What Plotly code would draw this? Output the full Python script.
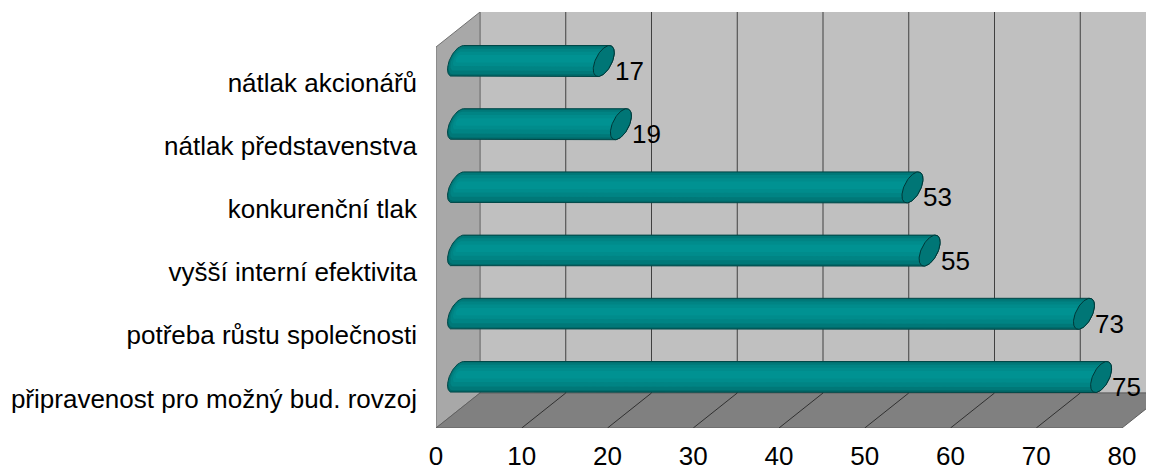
import numpy as np
import plotly.graph_objects as go

# ---------------- data ----------------
categories = [
    "připravenost pro možný bud. rovzoj",
    "potřeba růstu společnosti",
    "vyšší interní efektivita",
    "konkurenční tlak",
    "nátlak představenstva",
    "nátlak akcionářů",
]
values = [75, 73, 55, 53, 19, 17]
x_ticks = [0, 10, 20, 30, 40, 50, 60, 70, 80]

# ---------------- geometry / style ----------------
OFF = 8                            # page body margin compensation
W, H = 1154 - OFF, 473 - OFF
ML, MR, MT, MB = 436 - OFF, 0, 12 - OFF, 45
X_MAX_AXIS = 80
SX = (1122 - 436) / 80.0          # px per value unit (front plane)
SY = 63.2                          # px per category step
PLOT_W = W - ML - MR
PLOT_H = H - MT - MB
XR = [0, PLOT_W / SX]
Y0 = -0.53
YR = [Y0, Y0 + PLOT_H / SY]

DX = 44 / SX                       # depth offset (units)
DY = 35 / SY
LABEL_SHIFT = 4 / SY               # category labels sit slightly lower

FONT = "Liberation Sans, Arial, sans-serif"
FS = 26

# cylinder cross-section (px, y up)
RV, VX, VY = 13.05, 10.5, 8.35
T_STAR = np.arctan2(VY, RV)


def ell(cx, cy, t, k=1.0, dy_px=0.0):
    x = cx + k * VX * np.sin(t) / SX
    y = cy + (k * (RV * np.cos(t) + VY * np.sin(t)) + dy_px) / SY
    return x, y


def silhouette(x0, x1, cy, k=1.0, dy_px=0.0):
    tr = np.linspace(T_STAR, T_STAR + np.pi, 40)
    tl = np.linspace(T_STAR + np.pi, T_STAR + 2 * np.pi, 40)
    xr, yr = ell(x1, cy, tr, k, dy_px)
    xl, yl = ell(x0, cy, tl, k, dy_px)
    xs = np.concatenate([xr, xl, xr[:1]])
    ys = np.concatenate([yr, yl, yr[:1]])
    return xs, ys


fig = go.Figure()

shapes = []
ymin, ymax = YR
# back wall
shapes.append(dict(type="rect", xref="x", yref="y", x0=DX, x1=X_MAX_AXIS + DX,
                   y0=ymin + DY, y1=ymax + 0.01, fillcolor="#c0c0c0",
                   line=dict(color="#808080", width=1), layer="below"))
# left wall
shapes.append(dict(type="path", xref="x", yref="y",
                   path=f"M0,{ymin} L0,{ymax-DY} L{DX},{ymax} L{DX},{ymin+DY} Z",
                   fillcolor="#a8a8a8", line=dict(color="#707070", width=1), layer="below"))
# floor
shapes.append(dict(type="path", xref="x", yref="y",
                   path=f"M0,{ymin} L{DX},{ymin+DY} L{X_MAX_AXIS+DX},{ymin+DY} L{X_MAX_AXIS},{ymin} Z",
                   fillcolor="#808080", line=dict(color="#606060", width=1), layer="below"))
# gridlines
for v in x_ticks[1:-1]:
    shapes.append(dict(type="line", xref="x", yref="y", x0=v + DX, x1=v + DX,
                       y0=ymin + DY, y1=ymax, line=dict(color="#404040", width=1), layer="below"))
    shapes.append(dict(type="line", xref="x", yref="y", x0=v, x1=v + DX,
                       y0=ymin, y1=ymin + DY, line=dict(color="#303030", width=1), layer="below"))

layers = [(1.0, 0.0, "rgb(0,104,104)"), (0.9, 0.6, "rgb(0,120,120)"),
          (0.72, 1.2, "rgb(0,132,132)"), (0.48, 1.8, "rgb(0,140,140)"),
          (0.24, 2.2, "rgb(0,146,146)")]

annotations = []
for i, (cat, val) in enumerate(zip(categories, values)):
    cy = i + DY / 2
    x0 = DX / 2
    x1 = val + DX / 2
    for k, dyp, col in layers:
        xs, ys = silhouette(x0, x1, cy, k, dyp)
        fig.add_trace(go.Scatter(x=xs, y=ys, mode="lines", fill="toself", fillcolor=col,
                                 line=dict(color="rgb(0,72,72)" if k == 1.0 else col,
                                           width=1 if k == 1.0 else 0),
                                 hoverinfo="skip", showlegend=False))
    t = np.linspace(0, 2 * np.pi, 80)
    cx_, cy_ = ell(x1, cy, t)
    fig.add_trace(go.Scatter(x=cx_, y=cy_, mode="lines", fill="toself",
                             fillcolor="rgb(0,118,118)",
                             line=dict(color="rgb(0,55,55)", width=1),
                             hoverinfo="skip", showlegend=False))
    annotations.append(dict(x=x1 + 9 / SX, y=cy - 10 / SY, xref="x", yref="y",
                            text=str(val), showarrow=False, xanchor="left", yanchor="middle",
                            font=dict(family=FONT, size=FS, color="black")))

fig.update_layout(
    width=W, height=H,
    margin=dict(l=ML, r=MR, t=MT, b=MB, pad=0, autoexpand=False),
    paper_bgcolor="white", plot_bgcolor="white",
    shapes=shapes, annotations=annotations,
    showlegend=False,
    xaxis=dict(range=XR, tickvals=x_ticks, ticktext=[str(v) for v in x_ticks],
               showgrid=False, zeroline=False, showline=False, ticks="",
               automargin=False, ticklabelstandoff=10,
               tickfont=dict(family=FONT, size=FS, color="black"), fixedrange=True),
    yaxis=dict(range=YR, tickvals=[i - LABEL_SHIFT for i in range(len(categories))],
               ticktext=categories,
               showgrid=False, zeroline=False, showline=False, ticks="",
               automargin=False, ticklabelstandoff=18,
               tickfont=dict(family=FONT, size=FS, color="black"), fixedrange=True),
)

fig.write_html("out.html")
